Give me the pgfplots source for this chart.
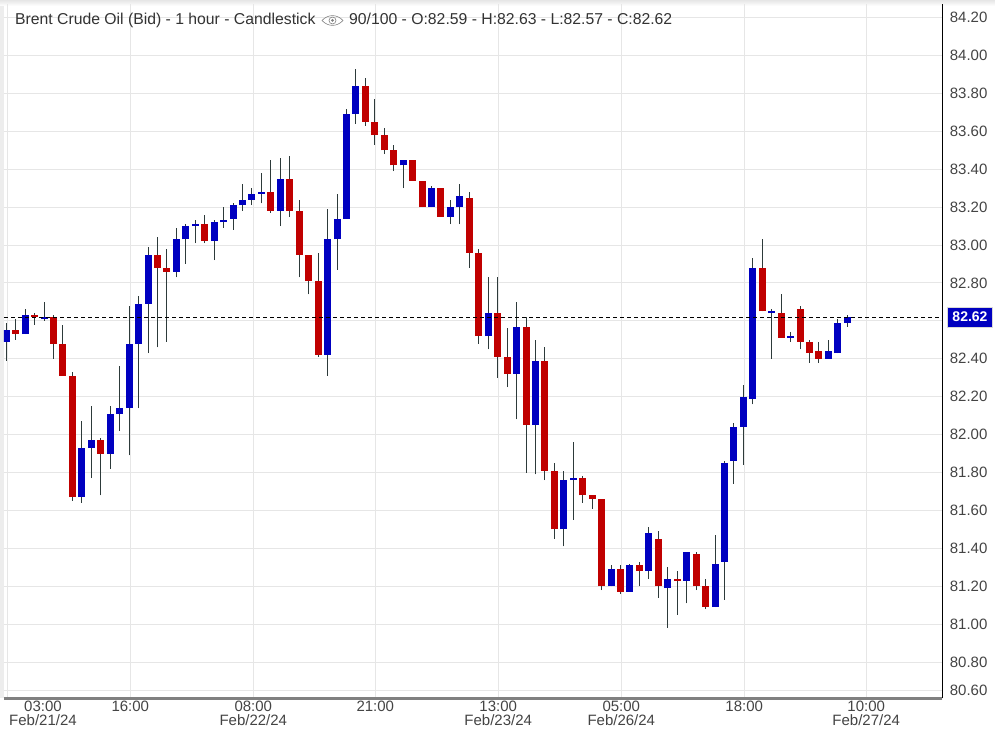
\documentclass[border=0pt]{standalone}
\usepackage{pgfplots}
\usepackage{pgfplotstable}
\usepackage{fontspec}
\setmainfont{Liberation Sans}
\pgfplotsset{compat=1.18}
\definecolor{upblue}{HTML}{0000C0}
\definecolor{downred}{HTML}{C00000}
\definecolor{wick}{HTML}{2D3A3A}
\definecolor{gridc}{HTML}{E6E6E6}
\definecolor{labc}{HTML}{444444}

% hourly candles, i = bar number from the left
\pgfplotstableread{
i o h l c
0 82.49 82.59 82.39 82.55
2 82.53 82.66 82.53 82.63
4 82.61 82.70 82.60 82.62
8 81.67 82.07 81.64 81.93
9 81.93 82.15 81.77 81.97
11 81.90 82.15 81.82 82.11
12 82.11 82.36 82.02 82.14
13 82.14 82.68 81.89 82.48
14 82.48 82.73 82.14 82.69
15 82.69 82.99 82.43 82.95
18 82.86 83.09 82.83 83.03
19 83.03 83.11 82.90 83.10
20 83.10 83.13 83.01 83.11
22 83.02 83.13 82.92 83.12
23 83.12 83.20 83.09 83.13
24 83.14 83.22 83.08 83.21
25 83.21 83.32 83.18 83.24
26 83.24 83.30 83.21 83.27
27 83.27 83.38 83.22 83.28
29 83.18 83.46 83.10 83.35
34 82.42 83.19 82.31 83.03
35 83.03 83.27 82.87 83.14
36 83.14 83.72 83.14 83.69
37 83.69 83.93 83.64 83.84
42 83.42 83.45 83.30 83.45
45 83.20 83.31 83.20 83.30
47 83.15 83.24 83.11 83.20
48 83.20 83.32 83.11 83.26
51 82.52 82.83 82.45 82.64
54 82.32 82.70 82.08 82.57
56 82.05 82.50 81.79 82.39
59 81.50 81.81 81.41 81.76
60 81.76 81.96 81.55 81.77
64 81.20 81.31 81.20 81.29
66 81.17 81.32 81.17 81.31
68 81.28 81.51 81.24 81.48
70 81.19 81.30 80.98 81.24
72 81.23 81.38 81.11 81.38
75 81.09 81.47 81.09 81.32
76 81.33 81.86 81.13 81.85
77 81.86 82.06 81.74 82.04
78 82.04 82.26 81.84 82.20
79 82.19 82.93 82.16 82.88
81 82.64 82.66 82.40 82.65
83 82.51 82.54 82.49 82.52
87 82.40 82.50 82.40 82.44
88 82.43 82.61 82.43 82.59
89 82.59 82.63 82.57 82.62
}\upbars
\pgfplotstableread{
i o h l c
1 82.55 82.61 82.50 82.53
3 82.63 82.64 82.58 82.62
5 82.62 82.63 82.40 82.48
6 82.48 82.58 82.31 82.31
7 82.31 82.33 81.65 81.67
10 81.97 81.98 81.68 81.90
16 82.95 83.04 82.46 82.88
17 82.88 82.98 82.49 82.86
21 83.11 83.16 83.01 83.02
28 83.28 83.45 83.17 83.18
30 83.35 83.47 83.15 83.18
31 83.18 83.24 82.83 82.95
32 82.95 82.95 82.74 82.81
33 82.81 82.96 82.41 82.42
38 83.84 83.88 83.63 83.65
39 83.65 83.77 83.53 83.58
40 83.58 83.62 83.48 83.50
41 83.50 83.53 83.39 83.42
43 83.45 83.45 83.34 83.34
44 83.34 83.34 83.20 83.20
46 83.30 83.30 83.15 83.15
49 83.25 83.28 82.88 82.96
50 82.96 82.98 82.48 82.52
52 82.64 82.83 82.30 82.41
53 82.41 82.56 82.25 82.32
55 82.57 82.62 81.80 82.05
57 82.39 82.46 81.76 81.81
58 81.81 81.85 81.45 81.50
61 81.77 81.78 81.64 81.68
62 81.68 81.68 81.61 81.66
63 81.66 81.66 81.18 81.20
65 81.29 81.31 81.16 81.17
67 81.31 81.33 81.20 81.28
69 81.45 81.49 81.14 81.20
71 81.24 81.28 81.05 81.23
73 81.37 81.38 81.18 81.20
74 81.20 81.24 81.08 81.09
80 82.88 83.03 82.65 82.65
82 82.64 82.74 82.51 82.51
84 82.66 82.68 82.45 82.49
85 82.49 82.50 82.38 82.43
86 82.44 82.49 82.38 82.40
}\downbars

\pgfplotsset{
  wickbar/.style={draw=none, mark=none, forget plot,
    error bars/.cd, y dir=plus, y explicit, error mark=none,
    error bar style={draw=wick, line width=1pt, solid}},
  upbody/.style={draw=none, mark=none, forget plot,
    error bars/.cd, y dir=plus, y explicit, error mark=none,
    error bar style={draw=upblue, line width=7pt, solid}},
  downbody/.style={draw=none, mark=none, forget plot,
    error bars/.cd, y dir=plus, y explicit, error mark=none,
    error bar style={draw=downred, line width=7pt, solid}},
}

\begin{document}
\begin{tikzpicture}[x=1pt, y=1pt]
\path[use as bounding box] (0,0) rectangle (995,730);
\fill[white] (0,0) rectangle (995,730);
\fill[black!7] (0,32) rectangle (3.5,730);
\shade[top color=black!10, bottom color=white] (0,724) rectangle (995,730);

\begin{axis}[
  at={(4pt,31.7pt)}, anchor=south west,
  scale only axis, width=938.3pt, height=694pt,
  xmin=-0.243, xmax=99.05,
  ymin=80.609, ymax=84.27,
  axis x line*=bottom, axis y line*=right,
  axis line style={-},
  x axis line style={draw=black!50, line width=2.5pt},
  y axis line style={draw=black, line width=1.5pt},
  grid=major, grid style={gridc, line width=1pt},
  major tick length=0pt,
  tick label style={font=\fontsize{15}{15}\selectfont, text=labc},
  xtick={0.106,13.12,26.14,39.05,52.06,65.08,78.09,91.0},
  xticklabels={,16:00,{08:00\\Feb/22/24},21:00,{13:00\\Feb/23/24},{05:00\\Feb/26/24},18:00,{10:00\\Feb/27/24}},
  extra x ticks={3.88},
  extra x tick labels={{03:00\\Feb/21/24}},
  extra x tick style={grid=none},
  xticklabel style={align=center, anchor=north, yshift=-2.5pt, inner sep=0pt, font=\fontsize{15}{14.5}\selectfont},
  ytick={80.65,80.8,81,81.2,81.4,81.6,81.8,82,82.2,82.4,82.6,82.8,83,83.2,83.4,83.6,83.8,84,84.2},
  yticklabels={80.60,80.80,81.00,81.20,81.40,81.60,81.80,82.00,82.20,82.40,,82.80,83.00,83.20,83.40,83.60,83.80,84.00,84.20},
  yticklabel style={anchor=west, xshift=4pt},
]
\addplot[wickbar] table[x=i, y=l, y error plus expr=\thisrow{h}-\thisrow{l}] {\upbars};
\addplot[wickbar] table[x=i, y=l, y error plus expr=\thisrow{h}-\thisrow{l}] {\downbars};
\addplot[upbody] table[x=i, y=o, y error plus expr=\thisrow{c}-\thisrow{o}] {\upbars};
\addplot[downbody] table[x=i, y=c, y error plus expr=\thisrow{o}-\thisrow{c}] {\downbars};
\addplot[black, line width=1pt, dash pattern=on 4pt off 3pt, forget plot] coordinates {(-0.243,82.62) (99.05,82.62)};
\end{axis}

% current price box
\node[fill=upblue, draw=black!15, line width=0.6pt, text=white, inner sep=0pt,
  minimum width=44.5pt, minimum height=20pt,
  font=\fontsize{14}{14}\selectfont\bfseries] at (970,413) {82.62};

% header
\node[anchor=base west, inner sep=0pt, text=black!80, font=\fontsize{15.75}{15.75}\selectfont] at (15,705) {Brent Crude Oil (Bid) - 1 hour - Candlestick};
\node[anchor=base west, inner sep=0pt, text=black!80, font=\fontsize{15.75}{15.75}\selectfont] at (349,705) {90/100 - O:82.59 - H:82.63 - L:82.57 - C:82.62};
\draw[black!50, line width=0.6pt] (322,709.5) .. controls (328,716) and (337,716) .. (343,709.5) .. controls (337,703) and (328,703) .. cycle;
\draw[black!50, line width=0.6pt] (332.5,709.5) circle (3.5);
\fill[black!50] (332.5,709.5) circle (1.5);
\end{tikzpicture}
\end{document}
